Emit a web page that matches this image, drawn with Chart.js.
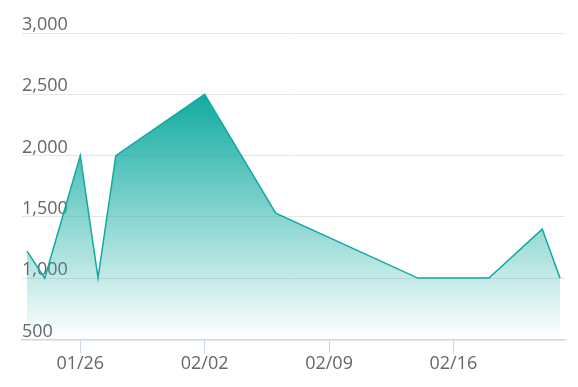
<!DOCTYPE html>
<html>
<head>
<meta charset="utf-8">
<script src="https://cdn.jsdelivr.net/npm/chart.js@4"></script>
<style>
  html, body { margin: 0; padding: 0; background: #fff; }
  .wrap { width: 578px; height: 387px; }
</style>
</head>
<body>
<div class="wrap"><canvas id="chart"></canvas></div>
<script>
// days counted from 01/26 (0), dates run 01/23 .. 02/22
const days = [-3, -2, 0, 1, 2, 7, 11, 19, 23, 26, 27];
const values = [1220, 1000, 2000, 1000, 2000, 2500, 1530, 1000, 1000, 1400, 1000];
const tickDays = [0, 7, 14, 21];
const tickLabels = ["01/26", "02/02", "02/09", "02/16"];
const yTicks = [500, 1000, 1500, 2000, 2500, 3000];

const teal = "rgb(16, 170, 160)";

const ctx = document.getElementById("chart").getContext("2d");
const myChart = new Chart(ctx, {
  type: "line",
  data: {
    datasets: [{
      data: days.map((d, i) => ({ x: d, y: values[i] })),
      borderColor: teal,
      borderWidth: 1.5,
      pointRadius: 0,
      tension: 0,
      fill: "start",
      backgroundColor: function (c) {
        const area = c.chart.chartArea;
        if (!area) return "rgba(16,170,160,0.5)";
        const g = c.chart.ctx.createLinearGradient(0, area.top + 60, 0, area.bottom);
        g.addColorStop(0, "rgba(16,170,160,1)");
        g.addColorStop(1, "rgba(16,170,160,0)");
        return g;
      },
    }],
  },
  options: {
    responsive: true,
    maintainAspectRatio: false,
    animation: false,
    layout: { padding: { left: 22, right: 13, top: 33, bottom: 12 } },
    plugins: { legend: { display: false }, tooltip: { enabled: false } },
    scales: {
      x: {
        type: "linear",
        min: -3.28,
        max: 27.28,
        afterBuildTicks: function (scale) {
          scale.ticks = tickDays.map(v => ({ value: v }));
        },
        ticks: {
          color: "#666",
          font: { family: "Open Sans", size: 18 },
          padding: 0,
          maxRotation: 0,
          callback: function (v) {
            const i = tickDays.indexOf(v);
            return i >= 0 ? tickLabels[i] : "";
          },
        },
        grid: {
          drawOnChartArea: false,
          drawTicks: true,
          tickLength: 14,
          color: "#ccd6eb",
        },
        border: { color: "#ccd6eb", width: 1.5 },
      },
      y: {
        min: 500,
        max: 3000,
        afterBuildTicks: function (scale) {
          scale.ticks = yTicks.map(v => ({ value: v }));
        },
        ticks: {
          mirror: true,
          padding: 0,
          labelOffset: -8,
          color: "#666",
          font: { family: "Open Sans", size: 18 },
          callback: v => v.toLocaleString("en-US"),
        },
        grid: { color: "#e6e6e6", drawTicks: false, lineWidth: 1 },
        border: { display: false },
      },
    },
  },
});
</script>
</body>
</html>
